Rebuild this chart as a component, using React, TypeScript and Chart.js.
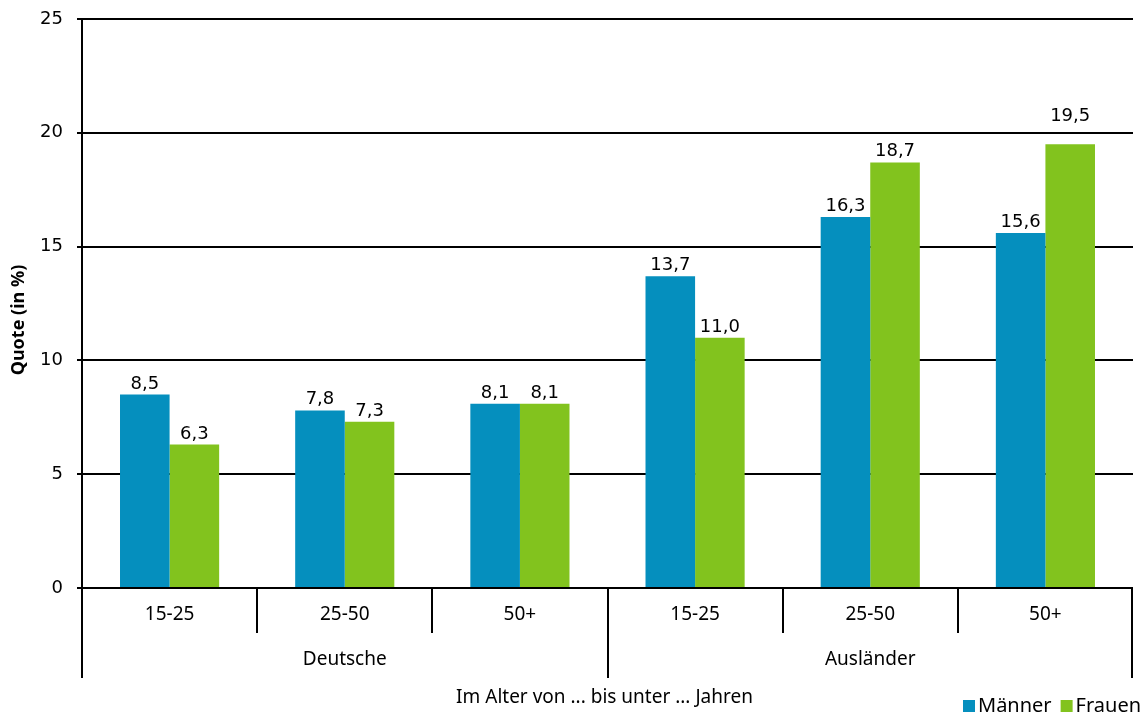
import React, { useEffect, useRef } from "react";
import { Chart, registerables } from "chart.js";

Chart.register(...registerables);

const categories = ["15-25", "25-50", "50+", "15-25", "25-50", "50+"];
const groups = ["Deutsche", "Ausländer"];
const groupSize = 3;
const maenner = [8.5, 7.8, 8.1, 13.7, 16.3, 15.6];
const frauen = [6.3, 7.3, 8.1, 11.0, 18.7, 19.5];
const seriesNames = ["Männer", "Frauen"];
const yTicks = [0, 5, 10, 15, 20, 25];
const yTitle = "Quote (in %)";
const xTitle = "Im Alter von ... bis unter ... Jahren";

const BLUE = "#058FBE";
const GREEN = "#82C31E";
const SANS = "'Noto Sans', 'Open Sans', sans-serif";
const NUM = "'DejaVu Sans', sans-serif";

const overlay = {
  id: "overlay",
  afterDraw(chart: any) {
    const { ctx, chartArea } = chart;
    const xs = chart.scales.x;
    const ys = chart.scales.y;
    const bottom = chartArea.bottom;
    const left = chartArea.left;
    const right = chartArea.right;
    const gridPx = yTicks.map((v) => ys.getPixelForValue(v));
    ctx.save();

    // data labels (moved above a gridline when they would overlap it)
    ctx.font = `18px ${NUM}`;
    ctx.fillStyle = "#000";
    ctx.textAlign = "center";
    ctx.textBaseline = "alphabetic";
    chart.data.datasets.forEach((ds: any, di: number) => {
      const meta = chart.getDatasetMeta(di);
      meta.data.forEach((bar: any, i: number) => {
        const v = ds.data[i];
        let base = bar.y - 6;
        const top = base - 14;
        gridPx.forEach((p) => {
          if (p > top - 2 && p < base + 3) base = p - 12;
        });
        ctx.fillText(v.toFixed(1).replace(".", ","), bar.x, base);
      });
    });

    // x-axis separators
    ctx.strokeStyle = "#000";
    ctx.lineWidth = 2;
    const n = categories.length;
    const bounds: number[] = [];
    for (let i = 1; i < n; i++) {
      bounds.push((xs.getPixelForValue(i - 1) + xs.getPixelForValue(i)) / 2);
    }
    bounds.forEach((bx, k) => {
      const isGroup = (k + 1) % groupSize === 0;
      ctx.beginPath();
      ctx.moveTo(Math.round(bx), bottom);
      ctx.lineTo(Math.round(bx), bottom + (isGroup ? 90 : 45));
      ctx.stroke();
    });
    // outer edges
    ctx.beginPath();
    ctx.moveTo(left, bottom);
    ctx.lineTo(left, bottom + 90);
    ctx.moveTo(right - 1, bottom - 1);
    ctx.lineTo(right - 1, bottom + 90);
    ctx.stroke();

    // category labels
    ctx.font = `19px ${SANS}`;
    ctx.textBaseline = "middle";
    ctx.textAlign = "center";
    categories.forEach((c, i) => {
      ctx.fillText(c, xs.getPixelForValue(i), bottom + 27);
    });
    // group labels
    groups.forEach((g, gi) => {
      const a = xs.getPixelForValue(gi * groupSize);
      const b = xs.getPixelForValue(gi * groupSize + groupSize - 1);
      ctx.fillText(g, (a + b) / 2, bottom + 72);
    });
    // x title
    ctx.fillText(xTitle, (left + right) / 2 - 3, bottom + 110);

    // y title
    ctx.save();
    ctx.translate(19, 320);
    ctx.rotate(-Math.PI / 2);
    ctx.font = `bold 18px ${SANS}`;
    ctx.fillText(yTitle, 0, 0);
    ctx.restore();

    // legend
    ctx.textAlign = "left";
    ctx.font = `20px ${SANS}`;
    const legendY = 706;
    let lx = 963;
    chart.data.datasets.forEach((ds: any) => {
      ctx.fillStyle = ds.backgroundColor;
      ctx.fillRect(lx, legendY - 6, 12, 12);
      ctx.fillStyle = "#000";
      ctx.fillText(ds.label, lx + 15, legendY);
      lx += 15 + ctx.measureText(ds.label).width + 9;
    });

    ctx.restore();
  },
};

export default function App() {
  const ref = useRef<HTMLCanvasElement | null>(null);
  useEffect(() => {
    if (!ref.current) return;
    const chart = new Chart(ref.current, {
      type: "bar",
      data: {
        labels: categories,
        datasets: [
          { label: seriesNames[0], data: maenner, backgroundColor: BLUE },
          { label: seriesNames[1], data: frauen, backgroundColor: GREEN },
        ],
      },
      plugins: [overlay],
      options: {
        responsive: false,
        animation: false,
        devicePixelRatio: 1,
        layout: { padding: { left: 0, right: 13, top: 19, bottom: 0 } },
        datasets: { bar: { categoryPercentage: 0.566, barPercentage: 1 } },
        plugins: { legend: { display: false }, tooltip: { enabled: false } },
        scales: {
          x: {
            display: true,
            ticks: { display: false },
            grid: { display: false },
            border: { display: false },
            afterFit: (s: any) => {
              s.height = 125;
            },
          },
          y: {
            min: 0,
            max: 25,
            afterBuildTicks: (s: any) => {
              s.ticks = yTicks.map((v) => ({ value: v }));
            },
            ticks: {
              font: { family: NUM, size: 18 },
              color: "#000",
              padding: 14,
            },
            grid: { color: "#000", lineWidth: 2, tickLength: 5, tickColor: "#000" },
            border: { display: true, color: "#000", width: 2 },
            afterFit: (s: any) => {
              s.width = 82;
              s.paddingTop = 0;
              s.paddingBottom = 0;
            },
          },
        },
      },
    });
    return () => chart.destroy();
  }, []);
  return (
    <div style={{ position: "absolute", left: 0, top: 0, width: 1146, height: 713, background: "#fff" }}>
      <canvas ref={ref} width={1146} height={713} style={{ display: "block" }} />
    </div>
  );
}
